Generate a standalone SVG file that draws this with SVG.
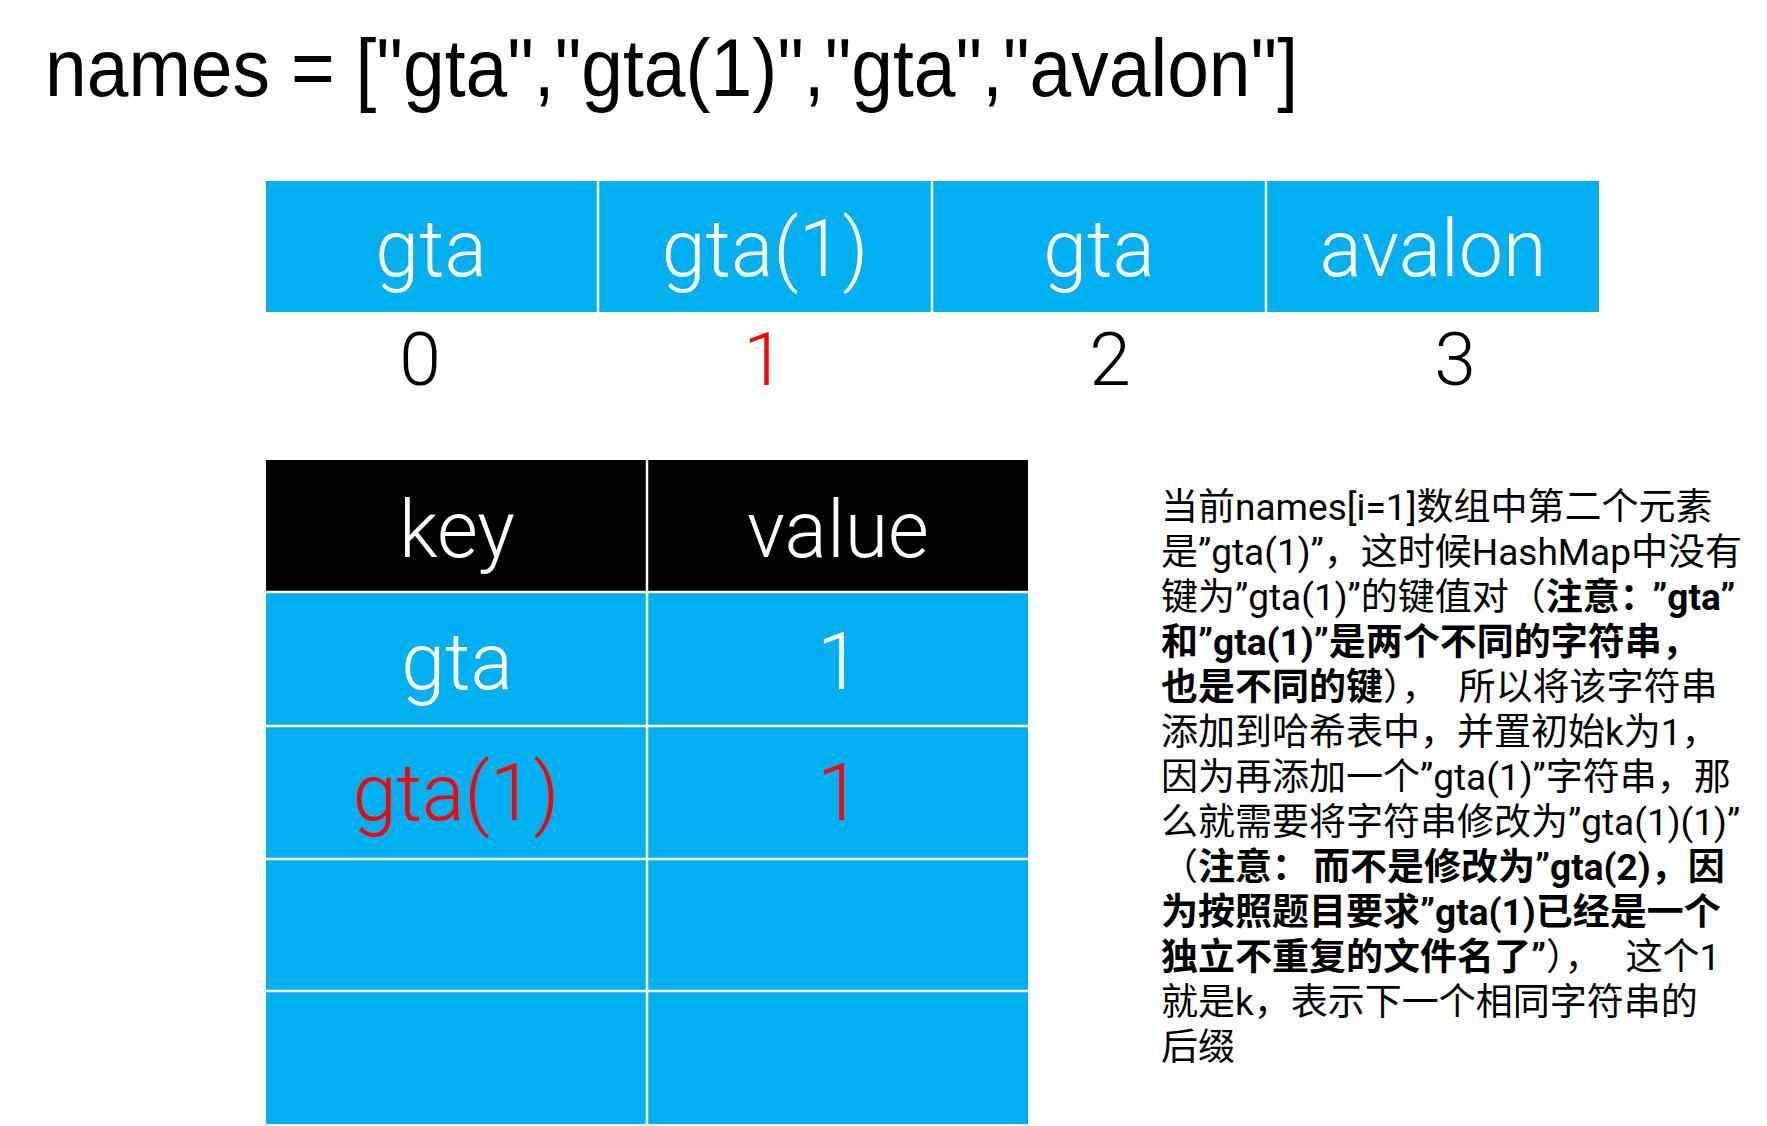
<svg xmlns="http://www.w3.org/2000/svg" width="1767" height="1126" viewBox="0 0 1767 1126">
  <style>
    .title { font-family: "Liberation Sans", Arial, sans-serif; font-size: 82px; fill: #000; }
    .cell { fill: #00B0F0; }
    .hdr { fill: #000; }
    .sep { stroke: #fff; stroke-width: 2.5; }
    .big { font-family: Roboto, "Noto Sans", "Noto Sans CJK SC", sans-serif; font-weight: 300; font-size: 79px; text-anchor: middle; }
    .w { fill: #fff; }
    .k { fill: #000; }
    .r { fill: #FF0000; }
    .idx { font-family: Roboto, "Noto Sans", sans-serif; font-weight: 300; font-size: 75px; text-anchor: middle; }
    .note { font-family: Roboto, "Noto Sans CJK SC", sans-serif; font-size: 37px; fill: #000; }
    .b { font-weight: 700; }
  </style>
  <rect width="1767" height="1126" fill="#fff"/>

  <g id="title">
    <text class="title" x="45" y="96" textLength="1253" lengthAdjust="spacingAndGlyphs">names = ["gta","gta(1)","gta","avalon"]</text>
  </g>

  <g id="array">
    <g id="arr0"><rect class="cell" x="266" y="181" width="332" height="131"/><text class="big w" x="431" y="276">gta</text></g>
    <g id="arr1"><rect class="cell" x="598" y="181" width="334" height="131"/><text class="big w" x="765" y="276">gta(1)</text></g>
    <g id="arr2"><rect class="cell" x="932" y="181" width="334" height="131"/><text class="big w" x="1099" y="276">gta</text></g>
    <g id="arr3"><rect class="cell" x="1266" y="181" width="333" height="131"/><text class="big w" x="1433" y="276">avalon</text></g>
    <line class="sep" x1="598" y1="181" x2="598" y2="312"/>
    <line class="sep" x1="932" y1="181" x2="932" y2="312"/>
    <line class="sep" x1="1266" y1="181" x2="1266" y2="312"/>
  </g>

  <g id="indices">
    <text class="idx k" x="420" y="385">0</text>
    <text class="idx r" x="764" y="385">1</text>
    <text class="idx k" x="1110" y="385">2</text>
    <text class="idx k" x="1455" y="385">3</text>
  </g>

  <g id="hashtable">
    <g id="hdr-key"><rect class="hdr" x="266" y="460" width="381" height="132"/><text class="big w" x="457" y="557">key</text></g>
    <g id="hdr-value"><rect class="hdr" x="647" y="460" width="381" height="132"/><text class="big w" x="838" y="557">value</text></g>
    <g id="row1-key"><rect class="cell" x="266" y="592" width="381" height="134"/><text class="big w" x="457" y="689">gta</text></g>
    <g id="row1-value"><rect class="cell" x="647" y="592" width="381" height="134"/><text class="big w" x="839" y="689">1</text></g>
    <g id="row2-key"><rect class="cell" x="266" y="726" width="381" height="133"/><text class="big r" x="456" y="820">gta(1)</text></g>
    <g id="row2-value"><rect class="cell" x="647" y="726" width="381" height="133"/><text class="big r" x="839" y="820">1</text></g>
    <g id="row3-key"><rect class="cell" x="266" y="859" width="381" height="132"/></g>
    <g id="row3-value"><rect class="cell" x="647" y="859" width="381" height="132"/></g>
    <g id="row4-key"><rect class="cell" x="266" y="991" width="381" height="133"/></g>
    <g id="row4-value"><rect class="cell" x="647" y="991" width="381" height="133"/></g>
    <line class="sep" x1="647" y1="460" x2="647" y2="1124"/>
    <line class="sep" x1="266" y1="592" x2="1028" y2="592"/>
    <line class="sep" x1="266" y1="726" x2="1028" y2="726"/>
    <line class="sep" x1="266" y1="859" x2="1028" y2="859"/>
    <line class="sep" x1="266" y1="991" x2="1028" y2="991"/>
  </g>

  <g id="note">
    <text class="note" x="1161" y="520">当前names[i=1]数组中第二个元素</text>
    <text class="note" x="1161" y="565">是”gta(1)”，这时候HashMap中没有</text>
    <text class="note" x="1161" y="610">键为”gta(1)”的键值对（<tspan class="b">注意：<tspan dx="14">”gta”</tspan></tspan></text>
    <text class="note b" x="1161" y="655">和”gta(1)”是两个不同的字符串，</text>
    <text class="note" x="1161" y="700"><tspan class="b">也是不同的键</tspan>），<tspan dx="20">所以将该字符串</tspan></text>
    <text class="note" x="1161" y="745">添加到哈希表中，并置初始k为1，</text>
    <text class="note" x="1161" y="790">因为再添加一个”gta(1)”字符串，那</text>
    <text class="note" x="1161" y="835">么就需要将字符串修改为”gta(1)(1)”</text>
    <text class="note" x="1161" y="880">（<tspan class="b">注意：<tspan dx="4">而不是修改为”gta(2)，因</tspan></tspan></text>
    <text class="note b" x="1161" y="925">为按照题目要求”gta(1)已经是一个</text>
    <text class="note" x="1161" y="970"><tspan class="b">独立不重复的文件名了”</tspan>），<tspan dx="24">这个1</tspan></text>
    <text class="note" x="1161" y="1015">就是k，表示下一个相同字符串的</text>
    <text class="note" x="1161" y="1060">后缀</text>
  </g>
</svg>
